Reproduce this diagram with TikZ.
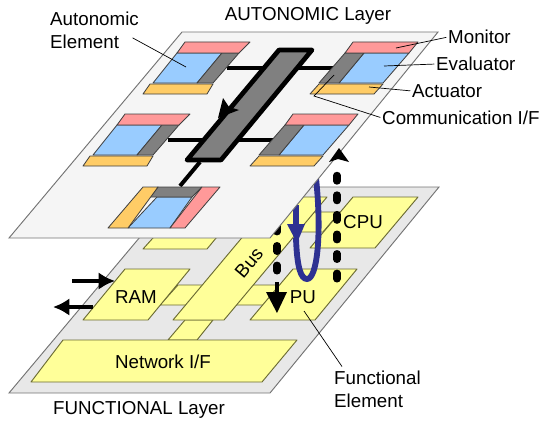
\documentclass[tikz,border=0pt]{standalone}
\usepackage{fontspec}
\setmainfont{Liberation Sans}
\usetikzlibrary{arrows,arrows.meta,calc}
\definecolor{monitorc}{HTML}{FF9999}
\definecolor{evalc}{HTML}{99CCFF}
\definecolor{commc}{HTML}{808080}
\definecolor{actc}{HTML}{FFCC66}
\definecolor{funcc}{HTML}{FFFF99}
\definecolor{funcd}{HTML}{6B6B33}
\definecolor{loopc}{HTML}{2E3192}
\tikzset{
  partedge/.style={draw=black!75,line width=0.7pt,line join=round},
  funcelem/.style={draw=funcd,fill=funcc,line width=0.8pt,line join=round},
  link/.style={line width=3.4pt},
  leader/.style={line width=0.6pt,shorten <=1.5pt},
  thickarrow/.style={-{Latex[length=14pt,width=15pt]},line width=3.8pt},
  dots/.style={line width=6pt,line cap=round,dash pattern=on 5pt off 11.7pt},
  lab/.style={font=\fontsize{16}{19}\selectfont,inner sep=0pt,align=left}
}
\begin{document}
\begin{tikzpicture}[>=latex,x=0.03cm,y=-0.03cm]
    \useasboundingbox (0,0) rectangle (542,424);
    % lower plane
    \draw[fill=black!9,draw=black!55,line width=0.8pt] (182,187) -- (439,187) -- (270,393) -- (9,393) -- cycle;
    % functional links
    \draw[funcelem] (178,285) -- (280,285) -- (263,305) -- (160,305) -- cycle;
    \draw[funcelem] (185,320) -- (213,320) -- (197,340) -- (168,340) -- cycle;
    \draw[funcelem] (314,212) -- (340,212) -- (323,232) -- (297,232) -- cycle;
    % functional elements
    \draw[funcelem] (190,197) -- (250,197) -- (207,249) -- (143,249) -- cycle;
    \draw[funcelem] (276,197) -- (327,197) -- (224,320) -- (173,320) -- cycle;
    \draw[funcelem] (125,269) -- (190,269) -- (148,320) -- (83,320) -- cycle;
    \draw[funcelem] (293,269) -- (357,269) -- (315,320) -- (250,320) -- cycle;
    \draw[funcelem] (353,197) -- (418,197) -- (375,248) -- (310,248) -- cycle;
    \draw[funcelem] (63,340) -- (297,340) -- (262,382) -- (31,382) -- cycle;
    \node[lab] (ram) at (136,297) {RAM};
    \node[lab] (pu) at (303,297) {PU};
    \node[lab] (cpu) at (363,222) {CPU};
    \node[lab] (netif) at (163,362) {Network I/F};
    \node[lab,rotate=50] (bus) at (249,263) {Bus};
    % flow through the functional layer
    \coordinate (downa) at (277,226);
    \coordinate (downb) at (277,276);
    \draw[dots] (downa) -- (downb);
    \fill (266,292) -- (287,292) -- (277,313) -- cycle;
    \draw[line width=4pt] (277,282) -- (277,295);
    \draw[loopc,line width=4.5pt] (296,205) -- (296,232);
    \draw[loopc,line width=5pt] (296,238) .. controls (297,268) and (301,279) .. (307,279) .. controls (317,279) and (322,235) .. (316,178);
    \fill[loopc] (287,224) -- (305,224) -- (297,243) -- cycle;
    % upper plane
    \draw[fill=black!4,draw=black!55,line width=0.8pt] (182,32) -- (438,32) -- (270,238) -- (9,238) -- cycle;
    % communication links
    \draw[link] (227,68) -- (333,68);
    \draw[link] (168,140) -- (273,140);
    \draw[link] (200,162) -- (180,186);
    \draw[fill=commc,line width=4pt,line join=round] (279,50) -- (312,50) -- (221,160) -- (187,160) -- cycle;
    \fill (218,118) -- (223,98) -- (229,107) -- (239,110) -- cycle;
    % autonomic elements with the communication part on the right
    \foreach \dx/\dy in {0/0,-60/72}{
      \begin{scope}[shift={(\dx,\dy)}]
        \draw[partedge,fill=evalc] (177,53) -- (222,53) -- (197,83) -- (153,83) -- cycle;
        \draw[partedge,fill=commc] (222,53) -- (239,53) -- (213,83) -- (197,83) -- cycle;
        \draw[partedge,fill=monitorc] (185,42) -- (250,42) -- (239,53) -- (177,53) -- cycle;
        \draw[partedge,fill=actc] (150,84) -- (213,84) -- (207,94) -- (143,94) -- cycle;
      \end{scope}
    }
    % autonomic elements with the communication part on the left
    \foreach \dx/\dy in {0/0,-60/72}{
      \begin{scope}[shift={(\dx,\dy)}]
        \draw[partedge,fill=evalc] (364,53) -- (409,53) -- (383,83) -- (339,83) -- cycle;
        \draw[partedge,fill=commc] (345,53) -- (364,53) -- (339,83) -- (319,83) -- cycle;
        \draw[partedge,fill=monitorc] (353,42) -- (418,42) -- (409,53) -- (345,53) -- cycle;
        \draw[partedge,fill=actc] (319,84) -- (383,84) -- (374,94) -- (310,94) -- cycle;
      \end{scope}
    }
    % the turned element
    \draw[partedge,fill=evalc] (157,197) -- (192,197) -- (170,228) -- (128,228) -- cycle;
    \draw[partedge,fill=commc] (158,187) -- (202,187) -- (192,197) -- (150,197) -- cycle;
    \draw[partedge,fill=monitorc] (202,187) -- (220,187) -- (185,228) -- (170,228) -- cycle;
    \draw[partedge,fill=actc] (143,187) -- (158,187) -- (128,228) -- (108,228) -- cycle;
    % flow up to the autonomic layer
    \coordinate (upa) at (337,279);
    \coordinate (upb) at (337,168);
    \draw[dots] (upa) -- (upb);
    \fill (339,148) -- (349,162) -- (338,159) -- (329,162) -- cycle;
    % external arrows
    \coordinate (ina) at (72,281);
    \coordinate (inb) at (115,281);
    \coordinate (outa) at (93,307);
    \coordinate (outb) at (53,307);
    \draw[thickarrow] (ina) -- (inb);
    \draw[thickarrow] (outa) -- (outb);
    % labels and leaders
    \node[lab,anchor=north west] (autoel) at (50,12) {Autonomic\\Element};
    \node[lab,anchor=west] (monitor) at (448,37) {Monitor};
    \node[lab,anchor=west] (evaluator) at (436,64) {Evaluator};
    \node[lab,anchor=west] (actuator) at (412,91) {Actuator};
    \node[lab,anchor=west] (commif) at (382,118) {Communication I/F};
    \node[lab,anchor=north west] (funcel) at (334,371) {Functional\\Element};
    \node[lab] (autolayer) at (308,16) {AUTONOMIC Layer};
    \node[lab] (funclayer) at (139,410) {FUNCTIONAL Layer};
    \coordinate (autoelp) at (186,67);
    \coordinate (monitorp) at (396,48);
    \coordinate (evaluatorp) at (384,66);
    \coordinate (actuatorp) at (369,87);
    \coordinate (commbend) at (314,96);
    \coordinate (commp) at (334,75);
    \coordinate (funcelp) at (304,311);
    \draw[leader] (131,37) -- (autoelp);
    \draw[leader] (monitor.west) -- (monitorp);
    \draw[leader] (evaluator.west) -- (evaluatorp);
    \draw[leader] (actuator.west) -- (actuatorp);
    \draw[leader] (commif.west) -- (commbend) -- (commp);
    \draw[leader] (343,368) -- (funcelp);
  \end{tikzpicture}
\end{document}
